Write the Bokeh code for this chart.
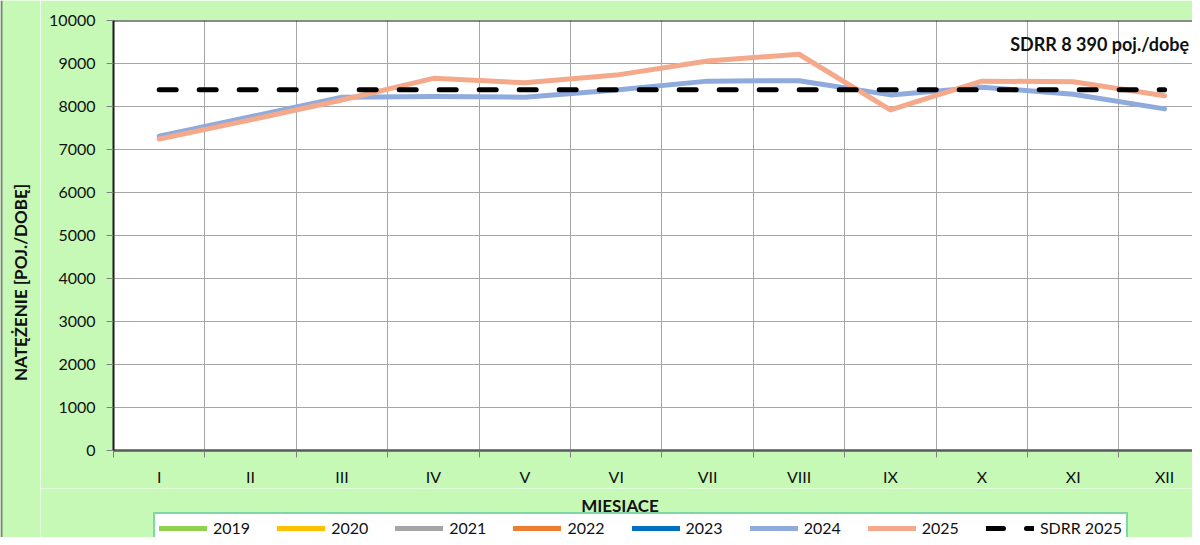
import math
from bokeh.plotting import figure
from bokeh.layouts import column, row
from bokeh.models import FixedTicker, Label, Legend, LegendItem, Range1d, Span
from bokeh.embed import file_html
from bokeh.resources import INLINE

# ---------------- data ----------------
months = ["I", "II", "III", "IV", "V", "VI", "VII", "VIII", "IX", "X", "XI", "XII"]
y_ticks = [0, 1000, 2000, 3000, 4000, 5000, 6000, 7000, 8000, 9000, 10000]

v2019 = []
v2020 = []
v2021 = []
v2022 = []
v2023 = []
v2024 = [7310, 7760, 8215, 8235, 8215, 8385, 8590, 8600, 8270, 8450, 8285, 7945]
v2025 = [7245, 7690, 8150, 8655, 8550, 8730, 9060, 9215, 7920, 8590, 8575, 8250]
sdrr_2025 = [8390, 8390, 8390, 8390, 8390, 8390, 8390, 8390, 8390, 8390, 8390, 8390]

series_labels = ["2019", "2020", "2021", "2022", "2023", "2024", "2025", "SDRR 2025"]
series_values = [v2019, v2020, v2021, v2022, v2023, v2024, v2025, sdrr_2025]
series_colors = ["#92D050", "#FFC000", "#A5A5A5", "#ED7D31", "#0070C0",
                 "#8FAADC", "#F4A98B", "#000000"]

x_title = "MIESIĄCE"
y_title = "NATĘŻENIE [POJ./DOBĘ]"
note_text = "SDRR 8 390 poj./dobę"

# ---------------- styling ----------------
FONT = "Lato"
GREEN = "#C7F9B6"
GRID = "#A6A6A6"
TXT = "#111111"
NAN = float("nan")
STRIP_W = 40

positions = list(range(1, len(months) + 1))
boundaries = [p - 0.5 for p in positions] + [positions[-1] + 0.5]


def line_style(label, color):
    return dict(line_color=color, line_width=5, line_cap="round", line_join="round",
                line_dash="17 23" if label.startswith("SDRR") else "solid")


def bare_figure(w, h):
    f = figure(width=w, height=h, output_backend="svg", toolbar_location=None,
               x_range=Range1d(0, 1), y_range=Range1d(0, 1),
               x_axis_location=None, y_axis_location=None,
               min_border_left=0, min_border_right=0, min_border_top=0,
               min_border_bottom=0, background_fill_color=GREEN,
               border_fill_color=GREEN, outline_line_color=None)
    f.grid.visible = False
    return f


# ---------------- main chart ----------------
p = figure(width=1192 - STRIP_W, height=488, output_backend="svg", toolbar_location=None,
           x_range=Range1d(0.5, 12.305), y_range=Range1d(0, 10000),
           min_border_left=113 - STRIP_W, min_border_right=0, min_border_top=20,
           min_border_bottom=36, background_fill_color="white",
           border_fill_color=GREEN, outline_line_color=None)
for label, vals, color in zip(series_labels, series_values, series_colors):
    p.line(positions[:len(vals)], vals, **line_style(label, color))

p.yaxis.ticker = FixedTicker(ticks=y_ticks)
p.yaxis.major_label_text_font = FONT
p.yaxis.major_label_text_font_size = "16px"
p.yaxis.major_label_text_color = TXT
p.yaxis.major_tick_out = 7
p.yaxis.major_tick_in = 0
p.yaxis.major_tick_line_color = "#808080"
p.yaxis.minor_tick_line_color = None
p.yaxis.axis_line_color = "#1a1a1a"
p.yaxis.axis_line_width = 2
p.yaxis.major_label_standoff = 11

p.xaxis.ticker = FixedTicker(ticks=positions, minor_ticks=boundaries)
p.xaxis.major_label_overrides = {pos: m for pos, m in zip(positions, months)}
p.xaxis.major_label_text_font = FONT
p.xaxis.major_label_text_font_size = "16px"
p.xaxis.major_label_text_color = TXT
p.xaxis.major_tick_line_color = None
p.xaxis.major_tick_out = 0
p.xaxis.major_tick_in = 0
p.xaxis.minor_tick_out = 7
p.xaxis.minor_tick_in = 0
p.xaxis.minor_tick_line_color = "#808080"
p.xaxis.axis_line_color = "#595959"
p.xaxis.axis_line_width = 2.5
p.xaxis.major_label_standoff = 9

p.ygrid.grid_line_color = GRID
p.xgrid.grid_line_color = None
p.xgrid.minor_grid_line_color = GRID

p.add_layout(Span(location=10000, dimension="width", line_color="#1a1a1a", line_width=2))
p.add_layout(Label(x=10.31, y=9450, text=note_text, text_align="left",
                   text_baseline="middle", text_font=FONT, text_font_style="bold",
                   text_font_size="18px", text_color=TXT))

# ---------------- left strip: y axis title ----------------
s = bare_figure(STRIP_W, 537)
s.add_layout(Span(location=1, location_units="screen", dimension="height",
                  line_color="#7F7F7F", line_width=2))
s.add_layout(Label(x=20, y=255, x_units="screen", y_units="screen", text=y_title,
                   angle=math.pi / 2, text_align="center", text_baseline="middle",
                   text_font=FONT, text_font_style="bold", text_font_size="17px",
                   text_color=TXT))

# ---------------- bottom strip: x axis title + legend ----------------
q = bare_figure(1192 - STRIP_W, 49)
items = []
for label, color in zip(series_labels, series_colors):
    r = q.line([NAN], [NAN], **line_style(label, color))   # legend key only
    items.append(LegendItem(label=label, renderers=[r]))

q.add_layout(Label(x=619.5 - STRIP_W, y=32.5, x_units="screen", y_units="screen",
                   text=x_title, text_align="center", text_baseline="middle",
                   text_font=FONT, text_font_style="bold", text_font_size="17px",
                   text_color=TXT))

legend = Legend(items=items, orientation="horizontal", location=(153 - STRIP_W, -6),
                glyph_width=48, glyph_height=16, label_height=16, label_standoff=6,
                spacing=27, padding=4, margin=0,
                label_text_font=FONT, label_text_font_size="16px",
                label_text_color=TXT,
                border_line_color="#00B050", border_line_width=2,
                background_fill_color="white", background_fill_alpha=1.0)
q.add_layout(legend)

for fig in (p, q, s):
    try:
        fig.frame_align = False
    except Exception:
        pass

layout = row(s, column(p, q, spacing=0), spacing=0)
open("out.html", "w").write(file_html(layout, INLINE))
